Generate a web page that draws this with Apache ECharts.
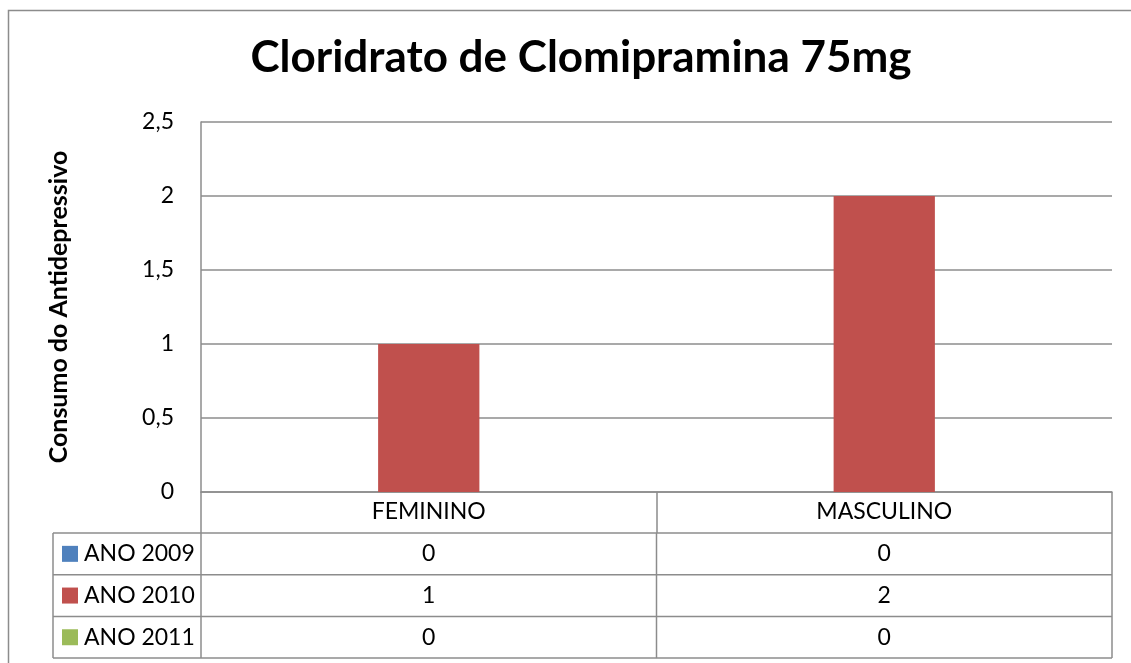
<!DOCTYPE html>
<html>
<head>
<meta charset="utf-8">
<script src="https://cdn.jsdelivr.net/npm/echarts@6/dist/echarts.min.js"></script>
<style>html,body{margin:0;padding:0;background:#fff}#c{width:1131px;height:663px}</style>
</head>
<body>
<div id="c"></div>
<script>
// ---- data ----
const title = 'Cloridrato de Clomipramina 75mg';
const yAxisTitle = 'Consumo do Antidepressivo';
const categories = ['FEMININO', 'MASCULINO'];
const seriesNames = ['ANO 2009', 'ANO 2010', 'ANO 2011'];
const ano2009 = [0, 0];
const ano2010 = [1, 2];
const ano2011 = [0, 0];
const yMin = 0, yMax = 2.5, yStep = 0.5;

// ---- style / layout ----
const colors = ['#4F81BD', '#C0504D', '#9BBB59'];
const FONT = 'Lato';
const LINE = '#8c8c8c';
const GL = 201, GR = 1112, GT = 122, GB = 492;
const HEADER_H = 41;
const ROW_H = 41.7;
const TABLE_L = 53;
const TXT = 23;

const seriesData = [ano2009, ano2010, ano2011];

const chart = echarts.init(document.getElementById('c'), null, {renderer: 'canvas'});

const option = {
  animation: false,
  backgroundColor: '#fff',
  title: {
    text: title, left: 576, textAlign: 'center', top: 31,
    textStyle: {fontFamily: FONT, fontWeight: 'bold', fontSize: 44, color: '#000'}
  },
  grid: {left: GL, right: 1131 - GR, top: GT, bottom: 663 - GB, containLabel: false},
  xAxis: {
    type: 'category', data: categories,
    axisLine: {lineStyle: {color: LINE, width: 1.5}},
    axisTick: {show: true, length: HEADER_H, inside: false, lineStyle: {color: LINE, width: 1.5}},
    axisLabel: {fontFamily: FONT, fontSize: TXT, color: '#000', margin: 8}
  },
  yAxis: {
    type: 'value', min: yMin, max: yMax, interval: yStep,
    name: yAxisTitle, nameLocation: 'middle', nameGap: 130, nameRotate: 90,
    nameTextStyle: {fontFamily: FONT, fontWeight: 'bold', fontSize: 25, color: '#000'},
    axisLine: {show: true, lineStyle: {color: LINE, width: 1.5}},
    axisTick: {show: false},
    axisLabel: {fontFamily: FONT, fontSize: TXT, color: '#000', margin: 27,
      formatter: v => String(v).replace('.', ',')},
    splitLine: {lineStyle: {color: LINE, width: 1.5}}
  },
  series: seriesNames.map((n, i) => ({
    name: n, type: 'bar', data: seriesData[i],
    barGap: '0%', barCategoryGap: '33.3%',
    itemStyle: {color: colors[i]}
  }))
};
chart.setOption(option);

// ---- data table built from the same arrays, placed with the axis scale ----
function buildTable() {
  const g = [];
  const lineStyle = {stroke: LINE, lineWidth: 1.5};
  const centers = categories.map((c, i) => chart.convertToPixel({xAxisIndex: 0}, i));
  const band = centers.length > 1 ? centers[1] - centers[0] : (GR - GL);
  const bounds = [centers[0] - band / 2].concat(centers.map(c => c + band / 2));
  const tTop = GB + HEADER_H;
  const tBottom = tTop + ROW_H * seriesNames.length;
  for (let r = 0; r <= seriesNames.length; r++) {
    const y = tTop + ROW_H * r;
    g.push({type: 'line', shape: {x1: TABLE_L, y1: y, x2: bounds[bounds.length - 1], y2: y}, style: lineStyle, silent: true});
  }
  [TABLE_L].concat(bounds).forEach(x => {
    g.push({type: 'line', shape: {x1: x, y1: tTop, x2: x, y2: tBottom}, style: lineStyle, silent: true});
  });
  seriesNames.forEach((n, r) => {
    const cy = tTop + ROW_H * r + ROW_H / 2;
    g.push({type: 'rect', shape: {x: TABLE_L + 9, y: cy - 8, width: 16, height: 16}, style: {fill: colors[r]}, silent: true});
    g.push({type: 'text', x: TABLE_L + 31, y: cy, style: {text: n, fontFamily: FONT, fontSize: TXT, fill: '#000', verticalAlign: 'middle', align: 'left'}, silent: true});
    seriesData[r].forEach((v, c) => {
      g.push({type: 'text', x: centers[c], y: cy, style: {text: String(v).replace('.', ','), fontFamily: FONT, fontSize: TXT, fill: '#000', verticalAlign: 'middle', align: 'center'}, silent: true});
    });
  });
  g.push({type: 'rect', shape: {x: 8.5, y: 10.5, width: 1300, height: 800}, style: {fill: 'none', stroke: LINE, lineWidth: 1.5}, silent: true});
  chart.setOption({graphic: g});
}
buildTable();
</script>
</body>
</html>
